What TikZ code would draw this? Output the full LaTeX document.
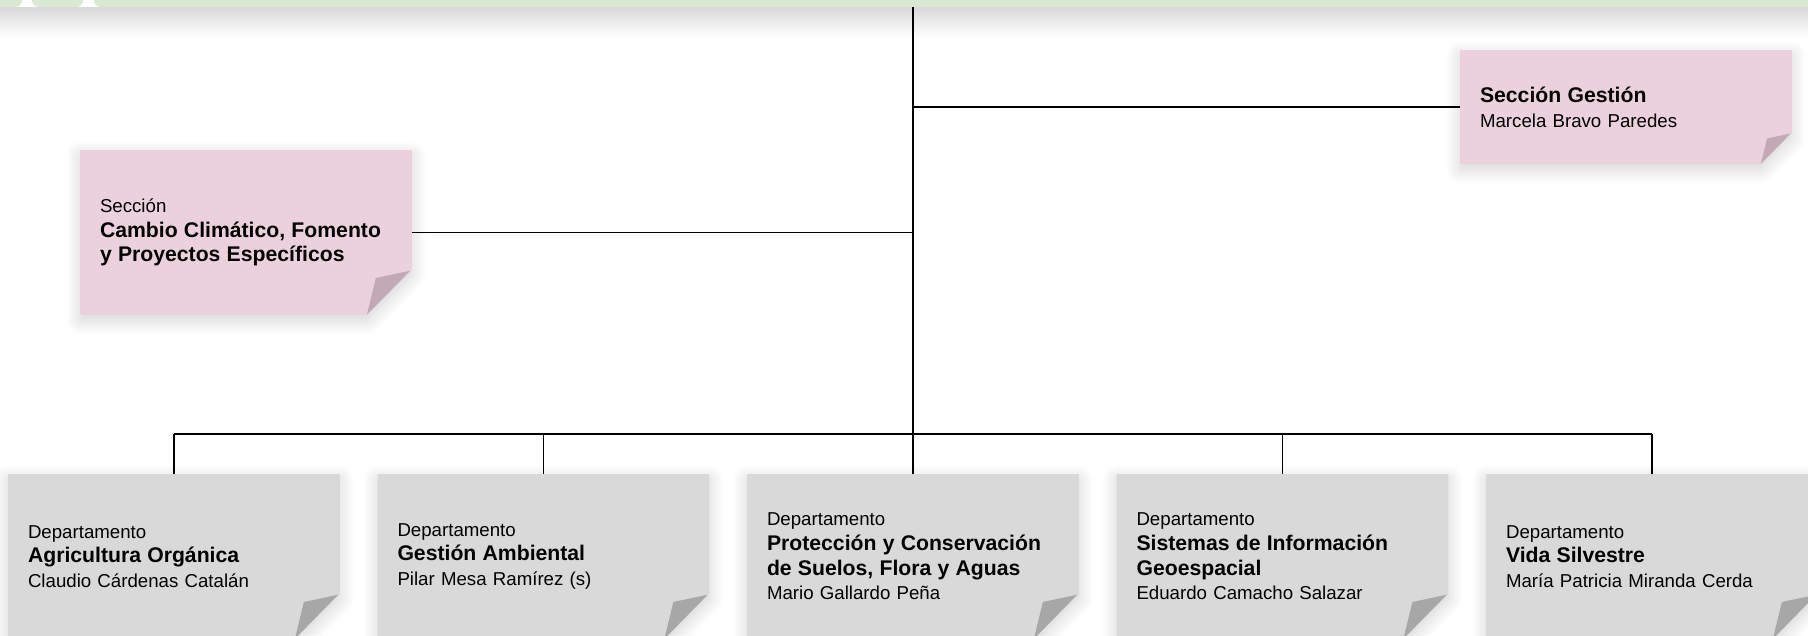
\documentclass[tikz,border=0pt]{standalone}
\usepackage{fontspec}
\setmainfont{Liberation Sans}
\usetikzlibrary{backgrounds,shadows.blur}
\definecolor{notepink}{HTML}{EAD1DC}
\definecolor{curlpink}{HTML}{C1A9B5}
\definecolor{notegrey}{HTML}{D9D9D9}
\definecolor{curlgrey}{HTML}{A7A7A7}
\definecolor{bandgreen}{HTML}{D9EAD3}
\tikzset{
  note/.style={rectangle, inner xsep=14.25pt, inner ysep=0pt, text width=219pt, align=left, font=\fontsize{14}{18.5}\selectfont},
  secnote/.style={note, minimum height=122.25pt},
  gestnote/.style={note, minimum height=84pt},
  depnote/.style={note, minimum height=122.25pt},
  soft/.style={blur shadow={shadow xshift=0pt, shadow yshift=-4pt, shadow blur radius=11pt, shadow blur steps=14, shadow opacity=18}},
  bandsoft/.style={blur shadow={shadow xshift=0pt, shadow yshift=-8pt, shadow blur radius=16pt, shadow blur steps=14, shadow opacity=20}}
}
\newcommand{\bt}[1]{{\fontsize{15.9}{18.5}\selectfont\bfseries #1}}
\newcommand{\notepaper}[4]{%
  \fill[#2, soft] (#1.north west) -- (#1.north east) -- ([yshift=#4]#1.south east)
    -- ([xshift=-#4]#1.south east) -- (#1.south west) -- cycle;
  \fill[#3] ([xshift=-#4]#1.south east) -- ([xshift=-0.8*#4, yshift=0.82*#4]#1.south east)
    -- ([xshift=-0.04*#4, yshift=0.98*#4]#1.south east) -- cycle;}

\begin{document}
\begin{tikzpicture}[x=0.75pt, y=-0.75pt, line width=1.3pt]
\useasboundingbox (0,0) rectangle (1808,635);

\node[secnote] (cambio) at (246,232.5) {Sección\\\bt{Cambio Climático, Fomento}\\\bt{y Proyectos Específicos}};
\node[gestnote] (gest) at (1626,107) {\bt{Sección Gestión}\\Marcela Bravo Paredes};
\node[depnote] (agro) at (174,556.5) {Departamento\\\bt{Agricultura Orgánica}\\Claudio Cárdenas Catalán};
\node[depnote] (ambi) at (543.5,556.5) {Departamento\\\bt{Gestión Ambiental}\\Pilar Mesa Ramírez (s)};
\node[depnote] (suelo) at (913,556.5) {Departamento\\\bt{Protección y Conservación}\\\bt{de Suelos, Flora y Aguas}\\Mario Gallardo Peña};
\node[depnote] (geo) at (1282.5,556.5) {Departamento\\\bt{Sistemas de Información}\\\bt{Geoespacial}\\Eduardo Camacho Salazar};
\node[depnote] (vida) at (1652,556.5) {Departamento\\\bt{Vida Silvestre}\\María Patricia Miranda Cerda};

\coordinate (top) at (913,7);
\coordinate (bus) at (913,434);

\begin{scope}[on background layer]
\fill[white, bandsoft] (-40,-60) rectangle (1850,7);
\fill[bandgreen, rounded corners=5pt] (-30,-30) rectangle (22,7);
\fill[bandgreen, rounded corners=5pt] (32,-30) rectangle (83,7);
\fill[bandgreen, rounded corners=5pt] (94,-30) rectangle (1850,7);
\notepaper{cambio}{notepink}{curlpink}{33.75pt}
\notepaper{gest}{notepink}{curlpink}{23.25pt}
\foreach \d in {agro,ambi,suelo,geo,vida}
  \notepaper{\d}{notegrey}{curlgrey}{33.75pt};
\end{scope}

\draw (top) to (bus);
\draw (cambio.east) to (cambio.east -| top);
\draw (gest.west) to (gest.west -| top);
\draw (agro |- bus) to (vida |- bus);
\foreach \d in {agro,ambi,suelo,geo,vida}
  \draw (\d.north) to (\d |- bus);
\end{tikzpicture}
\end{document}
